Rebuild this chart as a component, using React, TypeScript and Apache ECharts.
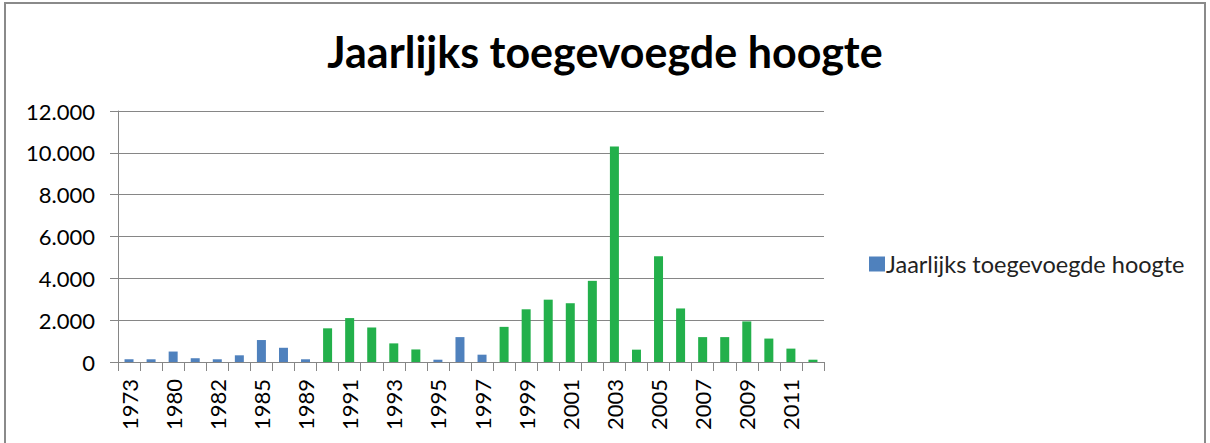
import React, { useEffect, useRef } from "react";
import * as echarts from "echarts";

const years = [
  "1973", "1976", "1980", "1981", "1982", "1984", "1985", "1987", "1989", "1990",
  "1991", "1992", "1993", "1994", "1995", "1996", "1997", "1998", "1999", "2000",
  "2001", "2002", "2003", "2004", "2005", "2006", "2007", "2008", "2009", "2010",
  "2011", "2012",
];
const heights = [
  130, 130, 500, 180, 130, 320, 1050, 680, 130, 1610,
  2100, 1650, 890, 600, 110, 1190, 350, 1680, 2520, 2980,
  2810, 3880, 10300, 590, 5050, 2560, 1190, 1190, 1940, 1120,
  640, 110,
];
const isGreen = [
  false, false, false, false, false, false, false, false, false, true,
  true, true, true, true, false, false, false, true, true, true,
  true, true, true, true, true, true, true, true, true, true,
  true, true,
];
const yTicks = { min: 0, max: 12000, interval: 2000 };
const titleText = "Jaarlijks toegevoegde hoogte";
const seriesName = "Jaarlijks toegevoegde hoogte";

const BLUE = "#4F81BD";
const GREEN = "#23B04B";

export default function App() {
  const ref = useRef<HTMLDivElement>(null);
  useEffect(() => {
    if (!ref.current) return;
    const chart = echarts.init(ref.current, null, { renderer: "svg" });
    chart.setOption({
      animation: false,
      backgroundColor: "#ffffff",
      title: {
        text: titleText,
        left: "center",
        top: 25,
        textStyle: {
          fontFamily: "Lato",
          fontWeight: "bold",
          fontSize: 43,
          color: "#000000",
        },
      },
      legend: {
        show: true,
        orient: "vertical",
        left: 864,
        top: 247,
        itemWidth: 16,
        itemHeight: 15,
        itemGap: 5,
        icon: "rect",
        textStyle: { fontFamily: "Lato", fontSize: 23.5, color: "#222222", padding: [0, 0, 0, -4] },
        data: [{ name: seriesName, itemStyle: { color: BLUE } }],
      },
      graphic: [
        {
          type: "rect",
          shape: { x: 5, y: 3, width: 1200, height: 470 },
          style: { fill: "none", stroke: "#8a8a8a", lineWidth: 2 },
          silent: true,
        },
      ],
      grid: { left: 118, right: 386, top: 111, bottom: 81, containLabel: false },
      xAxis: {
        type: "category",
        data: years,
        boundaryGap: true,
        axisLine: { show: true, lineStyle: { color: "#868686", width: 1 } },
        axisTick: { show: true, interval: 0, length: 9, lineStyle: { color: "#868686" } },
        axisLabel: {
          interval: 1,
          rotate: 90,
          margin: 17,
          fontFamily: "Lato",
          fontSize: 22,
          color: "#000000",
        },
      },
      yAxis: {
        type: "value",
        min: yTicks.min,
        max: yTicks.max,
        interval: yTicks.interval,
        axisLine: { show: true, lineStyle: { color: "#868686", width: 1 } },
        axisTick: { show: true, length: 8, lineStyle: { color: "#868686" } },
        splitLine: { show: true, lineStyle: { color: "#868686", width: 1 } },
        axisLabel: {
          margin: 23,
          fontFamily: "Lato",
          fontSize: 22,
          color: "#000000",
          formatter: (v: number) => v.toLocaleString("de-DE"),
        },
      },
      series: [
        {
          name: seriesName,
          type: "bar",
          barWidth: 9,
          itemStyle: { color: BLUE },
          data: heights.map((h, i) => ({
            value: h,
            itemStyle: { color: isGreen[i] ? GREEN : BLUE },
          })),
        },
      ],
    });
    return () => chart.dispose();
  }, []);
  return (
    <div
      ref={ref}
      style={{ position: "absolute", left: 0, top: 0, width: 1210, height: 443 }}
    />
  );
}
